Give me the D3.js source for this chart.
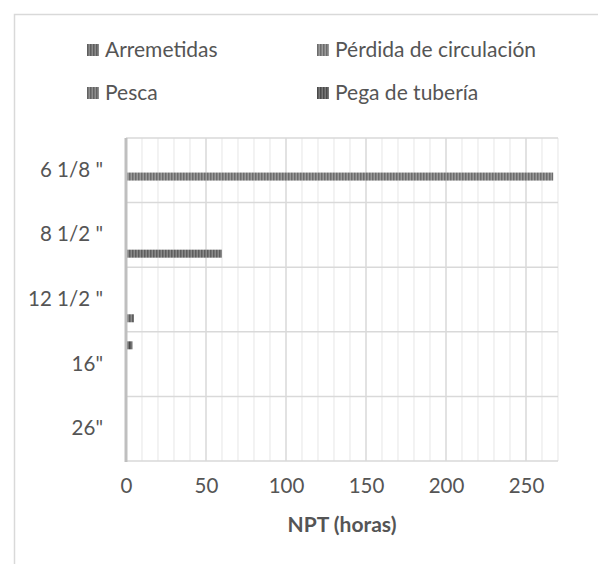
<!DOCTYPE html>
<html>
<head>
<meta charset="utf-8">
<script src="https://cdn.jsdelivr.net/npm/d3@7"></script>
<style>
  body { margin: 0; background: #fff; }
  text { font-family: Lato, "Noto Sans", sans-serif; fill: #555555; }
</style>
</head>
<body>
<script>
// categories, top to bottom
var categories = ['6 1/8 "', '8 1/2 "', '12 1/2 "', '16"', '26"'];
var seriesNames = ["Arremetidas", "Pérdida de circulación", "Pesca", "Pega de tubería"];

// NPT hours per category (same order as categories)
var arremetidas = [0, 60, 5, 0, 0];
var perdida     = [267, 0, 0, 0, 0];
var pesca       = [0, 0, 0, 0, 0];
var pega        = [0, 0, 0, 4, 0];

var xTicks = [0, 50, 100, 150, 200, 250];

var seriesValues = [arremetidas, perdida, pesca, pega];

var W = 598, H = 564;
var plot = {left: 126, right: 558, top: 138, bottom: 461};

var svg = d3.select("body").append("svg")
  .attr("width", W)
  .attr("height", H);

// stripe patterns, one per series
var stripes = [
  {dark: "#5e5e5e", light: "#8a8a8a"},
  {dark: "#6c6c6c", light: "#9a9a9a"},
  {dark: "#626262", light: "#8e8e8e"},
  {dark: "#4a4a4a", light: "#777777"}
];
var defs = svg.append("defs");
stripes.forEach(function(s, i) {
  var p = defs.append("pattern")
    .attr("id", "pat" + i)
    .attr("patternUnits", "userSpaceOnUse")
    .attr("width", 3)
    .attr("height", 10);
  p.append("rect").attr("width", 3).attr("height", 10).attr("fill", s.light);
  p.append("rect").attr("width", 1.5).attr("height", 10).attr("fill", s.dark);
});

// chart border (cropped on right and bottom)
svg.append("rect")
  .attr("x", 14.5).attr("y", 14.5)
  .attr("width", 700).attr("height", 700)
  .attr("fill", "none")
  .attr("stroke", "#d9d9d9")
  .attr("stroke-width", 1.5);

var x = d3.scaleLinear().domain([0, 270]).range([plot.left, plot.right]);
var y = d3.scaleBand().domain(categories).range([plot.top, plot.bottom]);
// Excel puts the first series at the bottom of each group
var ySub = d3.scaleBand()
  .domain(seriesNames.slice().reverse())
  .range([0, y.bandwidth()])
  .paddingInner(0.36)
  .paddingOuter(0.76);

// minor gridlines
svg.append("g").selectAll("line")
  .data(d3.range(10, 271, 10).filter(function(v) { return v % 50 != 0; }))
  .enter().append("line")
    .attr("x1", function(d) { return x(d); })
    .attr("x2", function(d) { return x(d); })
    .attr("y1", plot.top).attr("y2", plot.bottom)
    .attr("stroke", "#ececec")
    .attr("stroke-width", 1.3);

// major gridlines
svg.append("g").selectAll("line")
  .data(xTicks.slice(1))
  .enter().append("line")
    .attr("x1", function(d) { return x(d); })
    .attr("x2", function(d) { return x(d); })
    .attr("y1", plot.top).attr("y2", plot.bottom)
    .attr("stroke", "#d9d9d9")
    .attr("stroke-width", 1.5);

// horizontal category gridlines
var hLines = categories.map(function(c) { return y(c); }).concat([plot.bottom]);
svg.append("g").selectAll("line")
  .data(hLines)
  .enter().append("line")
    .attr("x1", plot.left).attr("x2", plot.right)
    .attr("y1", function(d) { return d; })
    .attr("y2", function(d) { return d; })
    .attr("stroke", "#d9d9d9")
    .attr("stroke-width", 1.5);

// bars
var barData = [];
seriesNames.forEach(function(s, si) {
  categories.forEach(function(c, ci) {
    if (seriesValues[si][ci] > 0) barData.push({series: s, si: si, cat: c, value: seriesValues[si][ci]});
  });
});
svg.append("g").selectAll("rect")
  .data(barData)
  .enter().append("rect")
    .attr("x", x(0))
    .attr("y", function(d) { return y(d.cat) + ySub(d.series); })
    .attr("width", function(d) { return x(d.value) - x(0); })
    .attr("height", ySub.bandwidth())
    .attr("fill", function(d) { return "url(#pat" + d.si + ")"; });

// vertical axis line
svg.append("line")
  .attr("x1", plot.left).attr("x2", plot.left)
  .attr("y1", plot.top).attr("y2", plot.bottom + 1)
  .attr("stroke", "#bfbfbf")
  .attr("stroke-width", 3);

// category labels
var yAxis = d3.axisLeft(y).tickSize(0).tickPadding(23);
svg.append("g")
  .attr("transform", "translate(" + plot.left + ",0)")
  .call(yAxis)
  .call(function(g) { g.select(".domain").remove(); })
  .selectAll("text")
    .style("font-size", "20.5px")
    .style("font-family", "Lato, sans-serif")
    .attr("fill", "#555555");

// x tick labels
var xAxis = d3.axisBottom(x).tickValues(xTicks).tickSize(0).tickPadding(0);
svg.append("g")
  .attr("transform", "translate(0,478)")
  .call(xAxis)
  .call(function(g) { g.select(".domain").remove(); })
  .selectAll("text")
    .style("font-size", "20.5px")
    .style("font-family", "Lato, sans-serif")
    .attr("fill", "#555555");

// axis title
svg.append("text")
  .attr("x", (plot.left + plot.right) / 2)
  .attr("y", 532)
  .attr("text-anchor", "middle")
  .style("font-size", "21px")
  .style("font-weight", "bold")
  .text("NPT (horas)");

// legend
var legendPos = [[87, 50], [317, 50], [87, 93], [317, 93]];
var legend = svg.selectAll(".legend")
  .data(seriesNames)
  .enter().append("g")
    .attr("class", "legend")
    .attr("transform", function(d, i) { return "translate(" + legendPos[i][0] + "," + legendPos[i][1] + ")"; });

legend.append("rect")
  .attr("x", 0).attr("y", -6)
  .attr("width", 12).attr("height", 12)
  .attr("fill", function(d, i) { return "url(#pat" + i + ")"; });

legend.append("text")
  .attr("x", 18)
  .attr("y", 0)
  .attr("dy", ".35em")
  .style("font-size", "21px")
  .text(function(d) { return d; });
</script>
</body>
</html>
